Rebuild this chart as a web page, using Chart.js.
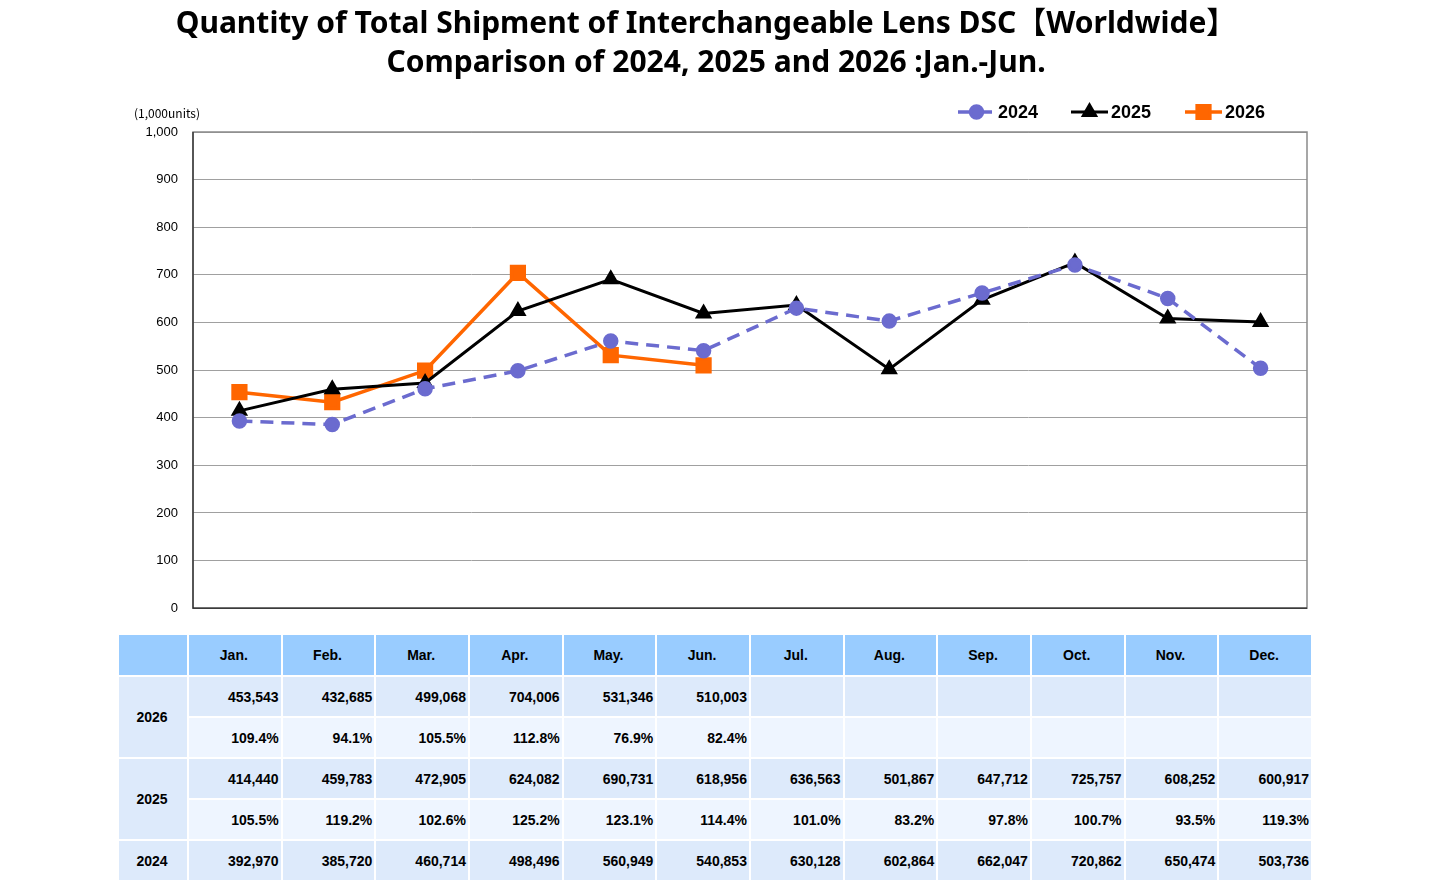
<!DOCTYPE html>
<html>
<head>
<meta charset="utf-8">
<script src="https://cdn.jsdelivr.net/npm/chart.js@4/dist/chart.umd.min.js"></script>
<style>
  body { margin: 0; background: #fff; width: 1451px; height: 893px; position: relative; overflow: hidden; }
  #wrap { position: absolute; left: 0; top: 0; width: 1451px; height: 631px; }
  table {
    position: absolute; left: 117px; top: 633px;
    border-collapse: separate; border-spacing: 2px;
    table-layout: fixed; width: 1196px;
    font-family: "Liberation Sans", Arial, sans-serif; font-weight: bold; font-size: 14px; color: #000;
  }
  td, th { height: 39px; padding: 0 2px 0 0; }
  th { background: #99CCFF; text-align: center; font-weight: bold; height: 40px; }
  td.yr { background: #DDEAFB; text-align: center; }
  td.v { background: #DDEAFB; text-align: right; }
  td.p { background: #EEF5FF; text-align: right; }
</style>
</head>
<body>
<div id="wrap"><canvas id="shipChart"></canvas></div>
<table id="tbl"></table>
<script>
const months = ["Jan.", "Feb.", "Mar.", "Apr.", "May.", "Jun.", "Jul.", "Aug.", "Sep.", "Oct.", "Nov.", "Dec."];
const years = ["2024", "2025", "2026"];
const ship2024 = [392970, 385720, 460714, 498496, 560949, 540853, 630128, 602864, 662047, 720862, 650474, 503736];
const ship2025 = [414440, 459783, 472905, 624082, 690731, 618956, 636563, 501867, 647712, 725757, 608252, 600917];
const ship2026 = [453543, 432685, 499068, 704006, 531346, 510003];
const ratio2025 = [105.5, 119.2, 102.6, 125.2, 123.1, 114.4, 101.0, 83.2, 97.8, 100.7, 93.5, 119.3];
const ratio2026 = [109.4, 94.1, 105.5, 112.8, 76.9, 82.4];
const yTicks = [0, 100, 200, 300, 400, 500, 600, 700, 800, 900, 1000];

const toK = arr => arr.map(v => v / 1000);

// table under the chart
const fmt = v => v.toLocaleString("en-US");
const cells = (arr, f, cls) => months.map((m, i) => `<td class="${cls}">${arr[i] !== undefined ? f(arr[i]) : ""}</td>`).join("");
const pct = v => v.toFixed(1) + "%";
let html = `<colgroup><col style="width:68px">${months.map(() => '<col>').join("")}</colgroup>`;
html += `<tr><th></th>${months.map(m => `<th>${m}</th>`).join("")}</tr>`;
html += `<tr><td class="yr" rowspan="2">2026</td>${cells(ship2026, fmt, "v")}</tr>`;
html += `<tr>${cells(ratio2026, pct, "p")}</tr>`;
html += `<tr><td class="yr" rowspan="2">2025</td>${cells(ship2025, fmt, "v")}</tr>`;
html += `<tr>${cells(ratio2025, pct, "p")}</tr>`;
html += `<tr><td class="yr">2024</td>${cells(ship2024, fmt, "v")}</tr>`;
document.getElementById("tbl").innerHTML = html;

// frame, title, unit and legend
const decorPlugin = {
    id: "decor",
    beforeDatasetsDraw(chart) {
        const { ctx, chartArea: a } = chart;
        ctx.save();
        ctx.strokeStyle = "#8a8a8a";
        ctx.lineWidth = 1.5;
        ctx.strokeRect(a.left, a.top, a.right - a.left, a.bottom - a.top);
        ctx.strokeStyle = "#222";
        ctx.lineWidth = 1.2;
        ctx.beginPath();
        ctx.moveTo(a.left, a.top);
        ctx.lineTo(a.left, a.bottom);
        ctx.lineTo(a.right, a.bottom);
        ctx.stroke();
        ctx.restore();
    },
    afterDraw(chart) {
        const { ctx } = chart;
        ctx.save();
        ctx.fillStyle = "#000";
        ctx.textAlign = "center";
        ctx.textBaseline = "middle";
        ctx.font = 'bold 30px "Noto Sans", "Noto Sans CJK JP", sans-serif';
        ctx.fillText("Quantity of Total Shipment of Interchangeable Lens DSC【Worldwide】", 706, 24);
        ctx.fillText("Comparison of 2024, 2025 and 2026 :Jan.-Jun.", 716, 63);

        ctx.textAlign = "left";
        ctx.font = '12px "Noto Sans CJK JP", sans-serif';
        ctx.fillText("(1,000units)", 134, 113);

        const legendX = [958, 1071, 1185];
        ctx.font = 'bold 18px "Liberation Sans", Arial, sans-serif';
        chart.data.datasets.forEach((ds, i) => {
            const x = legendX[i], y = 112;
            ctx.strokeStyle = ds.borderColor;
            ctx.lineWidth = ds.borderWidth;
            ctx.setLineDash(ds.borderDash || []);
            ctx.beginPath();
            ctx.moveTo(x, y);
            ctx.lineTo(x + 37, y);
            ctx.stroke();
            ctx.setLineDash([]);
            ctx.fillStyle = ds.pointBackgroundColor;
            ctx.strokeStyle = ds.borderColor;
            Chart.helpers.drawPoint(ctx, { pointStyle: ds.pointStyle, radius: ds.pointRadius, rotation: 0, borderWidth: 1 }, x + 18.5, y);
            ctx.fillStyle = "#000";
            ctx.fillText(ds.label, x + 40, y + 1);
        });
        ctx.restore();
    }
};

const shipData = {
    labels: months,
    datasets: [
        {
            label: years[0],
            data: toK(ship2024),
            borderColor: "#6B6BCF",
            backgroundColor: "#6B6BCF",
            pointBackgroundColor: "#6B6BCF",
            borderWidth: 3.5,
            borderDash: [13, 8],
            pointStyle: "circle",
            pointRadius: 6,
        },
        {
            label: years[1],
            data: toK(ship2025),
            borderColor: "#000000",
            backgroundColor: "#000000",
            pointBackgroundColor: "#000000",
            borderWidth: 3,
            pointStyle: "triangle",
            pointRadius: 7,
        },
        {
            label: years[2],
            data: toK(ship2026),
            borderColor: "#FF6600",
            backgroundColor: "#FF6600",
            pointBackgroundColor: "#FF6600",
            borderWidth: 3.5,
            pointStyle: "rect",
            pointRadius: 9,
        },
    ],
};

const shipConfig = {
    type: "line",
    data: shipData,
    options: {
        responsive: true,
        maintainAspectRatio: false,
        animation: false,
        layout: { padding: { left: 133, right: 144, top: 132, bottom: 18 } },
        plugins: {
            legend: { display: false },
            title: { display: false },
            tooltip: { enabled: false },
        },
        elements: { line: { tension: 0 }, point: { borderWidth: 1 } },
        scales: {
            x: { display: false, offset: true },
            y: {
                min: 0,
                max: 1000,
                afterFit: s => { s.width = 60; },
                afterBuildTicks: s => { s.ticks = yTicks.map(v => ({ value: v })); },
                border: { display: false },
                grid: { color: "#a0a0a0", lineWidth: 1, drawTicks: false },
                ticks: {
                    padding: 15,
                    color: "#000",
                    font: { family: '"Liberation Sans", Arial, sans-serif', size: 13 },
                    callback: v => v.toLocaleString("en-US"),
                },
            },
        },
    },
    plugins: [decorPlugin],
};

const shipChart = new Chart(document.getElementById("shipChart"), shipConfig);
</script>
</body>
</html>
